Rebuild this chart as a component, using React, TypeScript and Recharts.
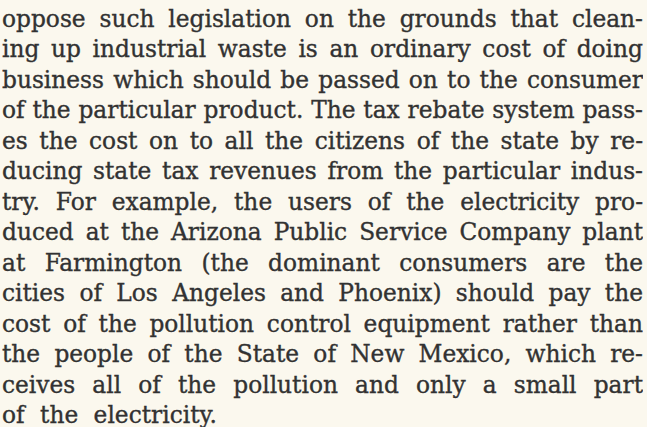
import { ScatterChart, Scatter, XAxis, YAxis } from 'recharts';

const lines = [
  'oppose such legislation on the grounds that clean-',
  'ing up industrial waste is an ordinary cost of doing',
  'business which should be passed on to the consumer',
  'of the particular product. The tax rebate system pass-',
  'es the cost on to all the citizens of the state by re-',
  'ducing state tax revenues from the particular indus-',
  'try. For example, the users of the electricity pro-',
  'duced at the Arizona Public Service Company plant',
  'at Farmington (the dominant consumers are the',
  'cities of Los Angeles and Phoenix) should pay the',
  'cost of the pollution control equipment rather than',
  'the people of the State of New Mexico, which re-',
  'ceives all of the pollution and only a small part',
  'of the electricity.',
];

const lineIndex = lines.map((_, i) => i);

const data = lines.map((text, i) => ({
  col: 0,
  line: lineIndex[i],
  text,
  justify: i < lines.length - 1,
}));

const TextLine = (props: any) => {
  const { cx, cy, payload } = props;
  return (
    <foreignObject x={cx} y={cy - 23} width={641} height={32}>
      <div
        style={{
          fontFamily: '"DejaVu Serif"',
          fontSize: 23.3,
          lineHeight: '30px',
          color: '#323232',
          WebkitTextStroke: '0.35px #323232',
          textAlign: payload.justify ? 'justify' : 'left',
          textAlignLast: payload.justify ? 'justify' : 'left',
          wordSpacing: payload.justify ? 0 : 8,
          whiteSpace: 'nowrap',
        }}
      >
        {payload.text}
      </div>
    </foreignObject>
  );
};

export default function App() {
  return (
    <div style={{ position: 'fixed', left: 0, top: 0, width: 647, height: 427, background: '#fbf8ee' }}>
      <ScatterChart width={647} height={427} margin={{ top: 27, right: 0, bottom: 4, left: 2 }}>
        <XAxis type="number" dataKey="col" domain={[0, 1]} hide />
        <YAxis type="number" dataKey="line" domain={[0, lines.length - 1]} reversed hide />
        <Scatter data={data} shape={TextLine} isAnimationActive={false} />
      </ScatterChart>
    </div>
  );
}
